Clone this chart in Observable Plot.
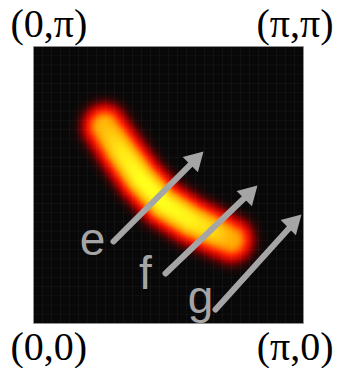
<!DOCTYPE html>
<html>
<head>
<meta charset="utf-8">
<script src="https://cdn.jsdelivr.net/npm/d3@7"></script>
<script src="https://cdn.jsdelivr.net/npm/@observablehq/plot@0.6"></script>
<style>
  html, body { margin: 0; padding: 0; background: #fff; }
</style>
</head>
<body>
<div id="chart"></div>
<script>
const PI = Math.PI;

// Ridge of the intensity band (domain coordinates, 0..π on both axes)
const ridgeX   = [0.830, 1.012, 1.245, 1.513, 1.827, 2.118, 2.300];
const ridgeY   = [2.230, 1.962, 1.644, 1.361, 1.168, 1.032, 0.950];
const ridgeAmp = [0.78, 0.92, 1.00, 1.00, 0.96, 0.86, 0.74];
const bandWidth = 0.218;   // width of the profile across the band
const bandPower = 2.6;     // profile sharpness

// Scan arrows e, f, g
const arrowLabel = ["e", "f", "g"];
const arrowX1 = [0.931, 1.536, 2.118];
const arrowY1 = [0.930, 0.567, 0.159];
const arrowX2 = [1.978, 2.606, 3.118];
const arrowY2 = [1.951, 1.565, 1.236];
const labelX  = [0.687, 1.303, 1.943];
const labelY  = [0.941, 0.556, 0.284];

// Corner labels
const topText    = ["(0,π)", "(π,π)"];
const bottomText = ["(0,0)", "(π,0)"];
const cornerX    = [0, PI];

// Heatmap cell grid (30 × 30 cells)
const cells = 30;

function intensity(x, y) {
  let best = Infinity, amp = 0;
  for (let i = 0; i < ridgeX.length - 1; i++) {
    const ax = ridgeX[i], ay = ridgeY[i];
    const bx = ridgeX[i + 1], by = ridgeY[i + 1];
    const vx = bx - ax, vy = by - ay;
    let t = ((x - ax) * vx + (y - ay) * vy) / (vx * vx + vy * vy);
    t = Math.max(0, Math.min(1, t));
    const px = ax + t * vx, py = ay + t * vy;
    const d2 = (x - px) ** 2 + (y - py) ** 2;
    if (d2 < best) {
      best = d2;
      amp = ridgeAmp[i] + t * (ridgeAmp[i + 1] - ridgeAmp[i]);
    }
  }
  return amp * Math.exp(-Math.pow(Math.sqrt(best) / bandWidth, bandPower));
}

const arrows = arrowLabel.map((label, i) => ({
  label, x1: arrowX1[i], y1: arrowY1[i], x2: arrowX2[i], y2: arrowY2[i],
  lx: labelX[i], ly: labelY[i]
}));
const gridTicks = d3.range(1, cells).map(i => i * PI / cells);

const gray = "#a5a5a5";
const serif = "Liberation Serif, Times New Roman, serif";

function cornerMark(text, i, y, dy) {
  return Plot.text([text], {
    x: [cornerX[i]], y: [y], text: [text],
    textAnchor: i === 0 ? "start" : "end",
    dx: i === 0 ? -23 : 30, dy,
    fill: "#000", fontSize: 40, fontFamily: serif
  });
}

const chart = Plot.plot({
  width: 337,
  height: 368,
  marginLeft: 33,
  marginRight: 34,
  marginTop: 46,
  marginBottom: 45,
  x: {domain: [0, PI], axis: null},
  y: {domain: [0, PI], axis: null},
  color: {
    type: "linear",
    domain: [0, 0.18, 0.4, 0.68, 1],
    range: ["#080808", "#a80000", "#ff2000", "#ff9c00", "#ffff1a"],
    clamp: true
  },
  style: {background: "#fff"},
  marks: [
    Plot.raster({fill: intensity, x1: 0, y1: 0, x2: PI, y2: PI}),
    Plot.gridX(gridTicks, {stroke: "#fff", strokeOpacity: 0.04}),
    Plot.gridY(gridTicks, {stroke: "#fff", strokeOpacity: 0.04}),
    Plot.frame({stroke: "#9a9a9a", strokeOpacity: 0.6}),
    Plot.arrow(arrows, {
      x1: "x1", y1: "y1", x2: "x2", y2: "y2",
      stroke: gray, strokeWidth: 6, headLength: 0, insetEnd: 9
    }),
    Plot.dot(arrows, {
      x: "x2", y: "y2", symbol: "triangle", r: 8, rotate: 45,
      fill: gray, stroke: "none", dx: -8.8, dy: 8.8
    }),
    Plot.text(arrows, {
      x: "lx", y: "ly", text: "label", fill: gray,
      fontSize: 46, fontFamily: "Liberation Sans, Arial, sans-serif"
    }),
    ...topText.map((t, i) => cornerMark(t, i, PI, -22)),
    ...bottomText.map((t, i) => cornerMark(t, i, 0, 24))
  ]
});

document.getElementById("chart").appendChild(chart);
</script>
</body>
</html>
